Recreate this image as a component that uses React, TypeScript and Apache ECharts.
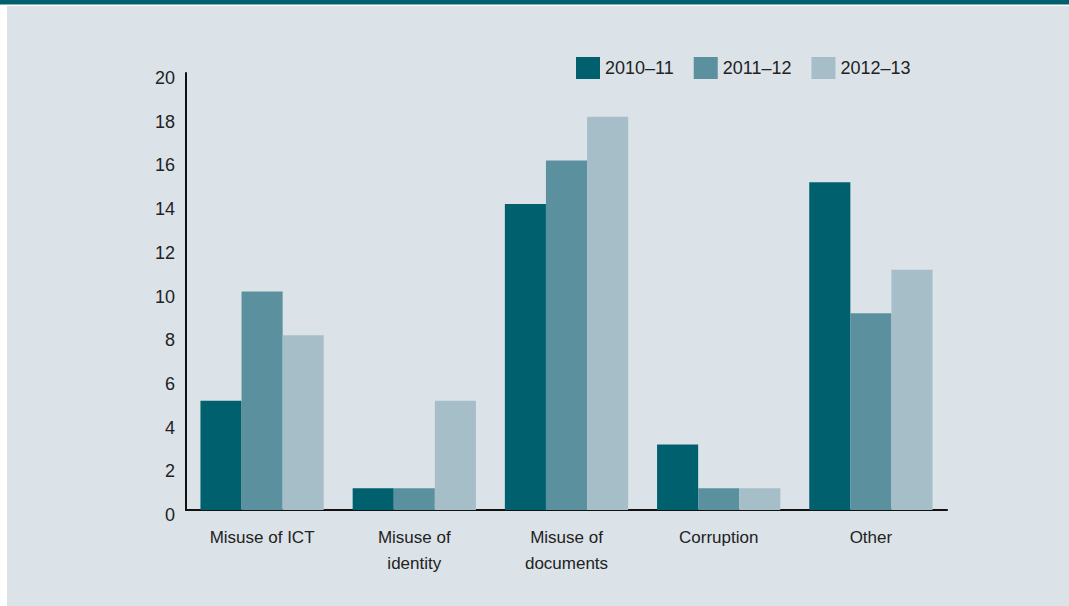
import React, { useEffect, useRef } from "react";
import * as echarts from "echarts";

// Offence categories and yearly counts
const categories = ["Misuse of ICT", "Misuse of\nidentity", "Misuse of\ndocuments", "Corruption", "Other"];
const years = ["2010–11", "2011–12", "2012–13"];
const values2010 = [5, 1, 14, 3, 15];
const values2011 = [10, 1, 16, 1, 9];
const values2012 = [8, 5, 18, 1, 11];
const colors = ["#00606e", "#5b909e", "#a6bec8"];

const FONT = "'Liberation Sans', Arial, sans-serif";
const BG = "#dbe2e8";

export default function App() {
  const ref = useRef<HTMLDivElement>(null);

  useEffect(() => {
    if (!ref.current) return;
    const chart = echarts.init(ref.current, undefined, { renderer: "svg" });
    const seriesData = [values2010, values2011, values2012];
    chart.setOption({
      animation: false,
      backgroundColor: "#ffffff",
      textStyle: { fontFamily: FONT },
      graphic: [
        { type: "rect", z: -10, shape: { x: 7, y: 6, width: 1062, height: 600 }, style: { fill: BG } },
        { type: "rect", z: -10, shape: { x: 0, y: 0, width: 1069, height: 4.5 }, style: { fill: "#00606e" } },
      ],
      legend: {
        data: years,
        left: 576,
        top: 57,
        padding: 0,
        itemWidth: 24,
        itemHeight: 22,
        itemGap: 20,
        textStyle: { fontFamily: FONT, fontSize: 18, color: "#222" },
        icon: "rect",
      },
      grid: { left: 186, right: 122, top: 73, bottom: 96, containLabel: false },
      xAxis: {
        type: "category",
        data: categories,
        axisLine: { lineStyle: { color: "#111", width: 2 } },
        axisTick: { show: false },
        axisLabel: {
          fontFamily: FONT,
          fontSize: 17,
          color: "#222",
          lineHeight: 26,
          margin: 14,
          interval: 0,
        },
      },
      yAxis: {
        type: "value",
        min: 0,
        max: 20,
        interval: 2,
        splitLine: { show: false },
        axisLine: { show: true, lineStyle: { color: "#111", width: 2 } },
        axisTick: { show: false },
        axisLabel: {
          fontFamily: FONT,
          fontSize: 18,
          color: "#222",
          margin: 11,
          verticalAlign: "top",
          lineHeight: 10,
        },
      },
      series: years.map((y, i) => ({
        name: y,
        type: "bar",
        data: seriesData[i],
        barGap: "0%",
        barCategoryGap: "19%",
        itemStyle: { color: colors[i] },
      })),
    });
    return () => chart.dispose();
  }, []);

  return (
    <div
      ref={ref}
      style={{ position: "fixed", left: 0, top: 0, width: 1069, height: 606 }}
    />
  );
}
